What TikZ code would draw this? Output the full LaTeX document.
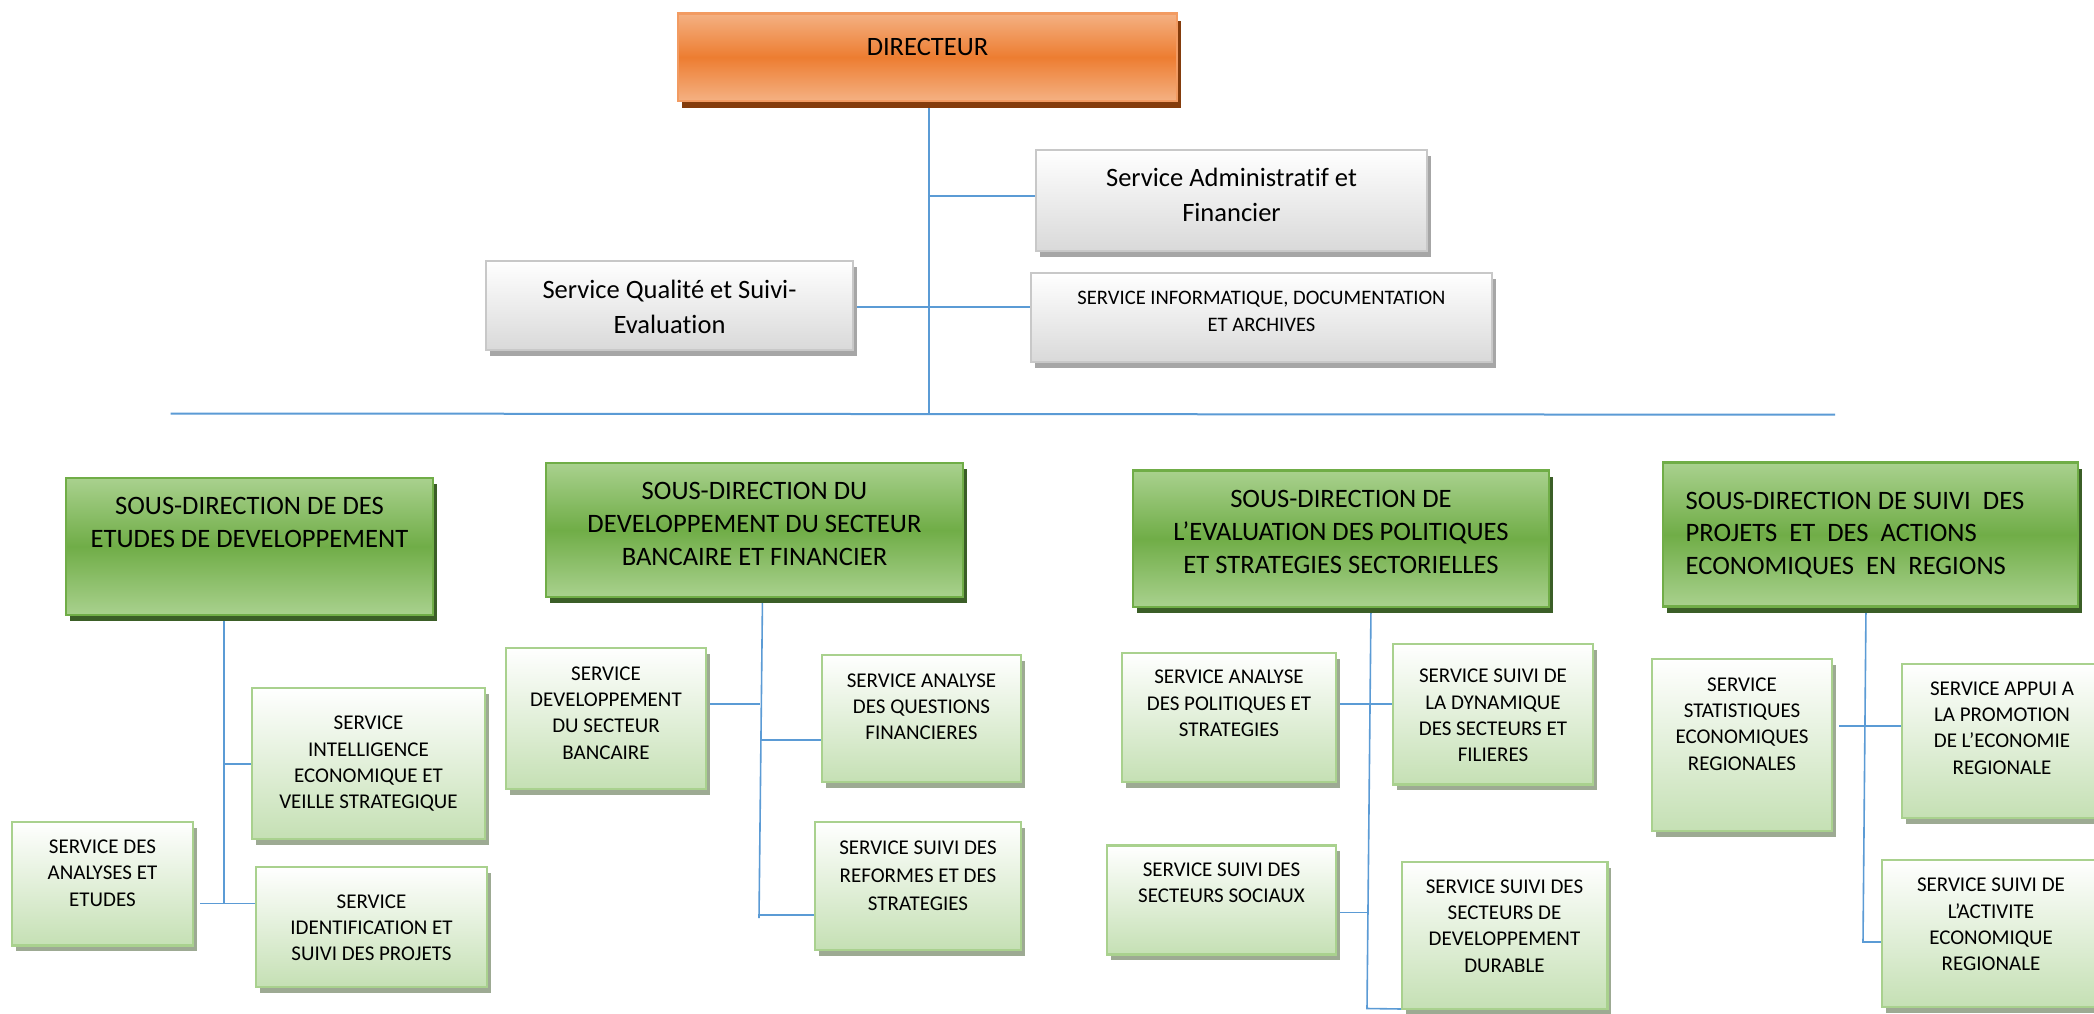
\documentclass[tikz,border=0pt]{standalone}
\usepackage{fontspec}
\setmainfont{Carlito}[Ligatures=NoCommon]
\usetikzlibrary{shadows}

\definecolor{linkblue}{HTML}{5B9BD5}
\definecolor{orLight}{HTML}{F4B183}
\definecolor{orDark}{HTML}{ED7D31}
\definecolor{orLine}{HTML}{F29B62}
\definecolor{orShadow}{HTML}{843C0C}
\definecolor{sdLight}{HTML}{A9D18E}
\definecolor{sdDark}{HTML}{70AD47}
\definecolor{sdLine}{HTML}{70AD47}
\definecolor{sdShadow}{HTML}{3B5E27}
\definecolor{svBottom}{HTML}{C5E0B4}
\definecolor{svLine}{HTML}{A9D18E}
\definecolor{svShadow}{HTML}{9DAA93}
\definecolor{gyBottom}{HTML}{D9D9D9}
\definecolor{gyLine}{HTML}{C8C8C8}
\definecolor{gyShadow}{HTML}{A6A6A6}

\pgfdeclarelayer{paper}
\pgfdeclarelayer{bg}
\pgfsetlayers{paper,bg,main}

\newcommand\fbig{\fontsize{26.5}{35}\selectfont}
\newcommand\fsd{\fontsize{26.6}{32.8}\selectfont}
\newcommand\fsv{\fontsize{21}{26.3}\selectfont}
\newcommand\finfo{\fontsize{20.6}{27}\selectfont}

\begin{document}
\begin{tikzpicture}[x=1pt,y=-1pt,
  boxbase/.style={rectangle,inner sep=0pt,outer sep=0pt,line width=2.5pt},
  dirbox/.style={boxbase,draw=orLine,top color=orLight,bottom color=orLight,middle color=orDark,
    drop shadow={shadow xshift=4pt,shadow yshift=-7pt,opacity=1,fill=orShadow}},
  sdbox/.style={boxbase,draw=sdLine,top color=sdLight,bottom color=sdLight,middle color=sdDark,
    drop shadow={shadow xshift=4pt,shadow yshift=-6pt,opacity=1,fill=sdShadow}},
  svbox/.style={boxbase,draw=svLine,top color=white,bottom color=svBottom,
    drop shadow={shadow xshift=3.5pt,shadow yshift=-5.5pt,opacity=1,fill=svShadow}},
  greybox/.style={boxbase,draw=gyLine,top color=white,bottom color=gyBottom,
    drop shadow={shadow xshift=3.5pt,shadow yshift=-5.5pt,opacity=1,fill=gyShadow}},
  txt/.style={align=center,inner sep=0pt,text=black},
  link/.style={draw=linkblue,line width=1.6pt},
  bus/.style={draw=linkblue,line width=2pt}
]
\useasboundingbox (0,0) rectangle (2094,1013);
\begin{pgfonlayer}{paper}
  \fill[white] (0,0) rectangle (2094,1013);
\end{pgfonlayer}
\clip (0,0) rectangle (2094,1013);

% ---- direction ----
\node[dirbox,minimum width=499pt,minimum height=87.5pt] (dir) at (927.5,57.25) {};
\node[txt,font=\fbig] (dir-t) at (927.5,46.7) {DIRECTEUR};

% ---- services attached to the director ----
\node[greybox,minimum width=391pt,minimum height=101pt] (adm) at (1231.5,200.5) {};
\node[txt,font=\fbig] (adm-t) at (1231.5,195) {Service Administratif et\\Financier};
\node[greybox,minimum width=367pt,minimum height=89pt] (qual) at (669.5,305.5) {};
\node[txt,font=\fbig] (qual-t) at (669.5,306.5) {Service Qualité et Suivi-\\Evaluation};
\node[greybox,minimum width=461pt,minimum height=89pt] (info) at (1261.5,317.5) {};
\node[txt,font=\finfo] (info-t) at (1261.5,311.5) {SERVICE INFORMATIQUE, DOCUMENTATION\\ET ARCHIVES};

% ---- sous-directions ----
\node[sdbox,minimum width=367pt,minimum height=137pt] (sd1) at (249.5,546.5) {};
\node[txt,font=\fsd] (sd1-t) at (249.5,522.75) {SOUS-DIRECTION DE DES\\ETUDES DE DEVELOPPEMENT};
\node[sdbox,minimum width=417pt,minimum height=134pt] (sd2) at (754.5,530) {};
\node[txt,font=\fsd] (sd2-t) at (754.5,524) {SOUS-DIRECTION DU\\DEVELOPPEMENT DU SECTEUR\\BANCAIRE ET FINANCIER};
\node[sdbox,minimum width=416pt,minimum height=136.5pt] (sd3) at (1341,538.75) {};
\node[txt,font=\fsd] (sd3-t) at (1341,532) {SOUS-DIRECTION DE\\L’EVALUATION DES POLITIQUES\\ET STRATEGIES SECTORIELLES};
\node[sdbox,minimum width=415pt,minimum height=144pt] (sd4) at (1870.5,534.7) {};
\node[txt,font=\fsd,align=left,anchor=west] (sd4-t) at (1685.5,535)
  {SOUS-DIRECTION DE SUIVI\ \ DES\\PROJETS\ \ ET\ \ DES\ \ ACTIONS\\ECONOMIQUES\ \ EN\ \ REGIONS};

% ---- services, first sous-direction ----
\node[svbox,minimum width=233pt,minimum height=151pt] (intel) at (368.5,763.5) {};
\node[txt,font=\fsv] (intel-t) at (368.5,763.8) {SERVICE\\INTELLIGENCE\\ECONOMIQUE ET\\VEILLE STRATEGIQUE};
\node[svbox,minimum width=181pt,minimum height=123.5pt] (anal) at (102.5,883.75) {};
\node[txt,font=\fsv] (anal-t) at (102.5,873) {SERVICE DES\\ANALYSES ET\\ETUDES};
\node[svbox,minimum width=231pt,minimum height=120pt] (ident) at (371.5,927) {};
\node[txt,font=\fsv] (ident-t) at (371.5,927.7) {SERVICE\\IDENTIFICATION ET\\SUIVI DES PROJETS};

% ---- services, second sous-direction ----
\node[svbox,minimum width=200pt,minimum height=141pt] (dev) at (606,718.5) {};
\node[txt,font=\fsv] (dev-t) at (606,713) {SERVICE\\DEVELOPPEMENT\\DU SECTEUR\\BANCAIRE};
\node[svbox,minimum width=199pt,minimum height=127pt] (quest) at (921.5,718.5) {};
\node[txt,font=\fsv] (quest-t) at (921.5,706.8) {SERVICE ANALYSE\\DES QUESTIONS\\FINANCIERES};
\node[svbox,minimum width=206pt,minimum height=128pt] (ref) at (918,886) {};
\node[txt,font=\fontsize{21}{28}\selectfont] (ref-t) at (918,876) {SERVICE SUIVI DES\\REFORMES ET DES\\STRATEGIES};

% ---- services, third sous-direction ----
\node[svbox,minimum width=214pt,minimum height=129pt] (pol) at (1229,717.5) {};
\node[txt,font=\fsv] (pol-t) at (1229,703.3) {SERVICE ANALYSE\\DES POLITIQUES ET\\STRATEGIES};
\node[svbox,minimum width=200pt,minimum height=140.6pt] (dyn) at (1493,714.3) {};
\node[txt,font=\fsv] (dyn-t) at (1493,715.6) {SERVICE SUIVI DE\\LA DYNAMIQUE\\DES SECTEURS ET\\FILIERES};
\node[svbox,minimum width=229pt,minimum height=108.8pt] (soc) at (1221.5,900.1) {};
\node[txt,font=\fsv] (soc-t) at (1221.5,883) {SERVICE SUIVI DES\\SECTEURS SOCIAUX};
\node[svbox,minimum width=205.7pt,minimum height=147pt] (dur) at (1504.85,935.5) {};
\node[txt,font=\fsv] (dur-t) at (1504.5,926) {SERVICE SUIVI DES\\SECTEURS DE\\DEVELOPPEMENT\\DURABLE};

% ---- services, fourth sous-direction ----
\node[svbox,minimum width=180pt,minimum height=172pt] (stat) at (1742,745) {};
\node[txt,font=\fsv] (stat-t) at (1742,724) {SERVICE\\STATISTIQUES\\ECONOMIQUES\\REGIONALES};
\node[svbox,minimum width=200pt,minimum height=154pt] (appui) at (2002,741) {};
\node[txt,font=\fsv] (appui-t) at (2002,728) {SERVICE APPUI A\\LA PROMOTION\\DE L’ECONOMIE\\REGIONALE};
\node[svbox,minimum width=218pt,minimum height=147pt] (act) at (1991,933.5) {};
\node[txt,font=\fsv] (act-t) at (1991,924.5) {SERVICE SUIVI DE\\L’ACTIVITE\\ECONOMIQUE\\REGIONALE};

% ---- connectors, behind the boxes ----
\begin{pgfonlayer}{bg}
  % director trunk and horizontal bus
  \coordinate (busL) at (170.5,413.5);
  \coordinate (busR) at (1835,414.7);
  \coordinate (t0) at (929,413);
  \coordinate (ja) at (929,196);
  \coordinate (jq) at (929,307);
  \draw[bus] (busL) -- (busR);
  \draw[link] (dir.south -| t0) -- (t0);
  \draw[link] (ja) -- (ja -| adm.west);
  \draw[link] (jq -| qual.east) -- (jq -| info.west);

  % first sous-direction
  \coordinate (c1a) at (224,763.7);
  \coordinate (c1b) at (224,903.5);
  \draw[link] (sd1.south -| c1a) -- (c1b);
  \draw[link] (c1a) -- (c1a -| intel.west);
  \draw[link,shorten <=7pt] (c1b -| anal.east) -- (c1b -| ident.west);

  % second sous-direction
  \coordinate (c2t) at (762.5,597);
  \coordinate (c2b) at (759,918);
  \coordinate (c2d) at (760,704);
  \coordinate (c2q) at (760.5,740);
  \coordinate (c2r) at (759,915);
  \draw[link] (sd2.south -| c2t) -- (c2b);
  \draw[link] (c2d -| dev.east) -- (c2d);
  \draw[link] (c2q) -- (c2q -| quest.west);
  \draw[link] (c2r) -- (c2r -| ref.west);

  % third sous-direction
  \coordinate (c3t) at (1371,607);
  \coordinate (c3b) at (1367,1008.5);
  \coordinate (c3a) at (1369,704);
  \coordinate (c3s) at (1367.5,912.5);
  \draw[link] (sd3.south -| c3t) -- (c3b) -- (dur.south west);
  \draw[link,shorten <=4pt] (c3a -| pol.east) -- (c3a -| dyn.west);
  \draw[link] (c3s -| soc.east) -- (c3s);

  % fourth sous-direction
  \coordinate (c4t) at (1866,607);
  \coordinate (c4b) at (1863,942);
  \coordinate (c4a) at (1865,726);
  \draw[link] (sd4.south -| c4t) -- (c4b) -- (c4b -| act.west);
  \draw[link,shorten <=7pt] (c4a -| stat.east) -- (c4a -| appui.west);
\end{pgfonlayer}
\end{tikzpicture}
\end{document}
